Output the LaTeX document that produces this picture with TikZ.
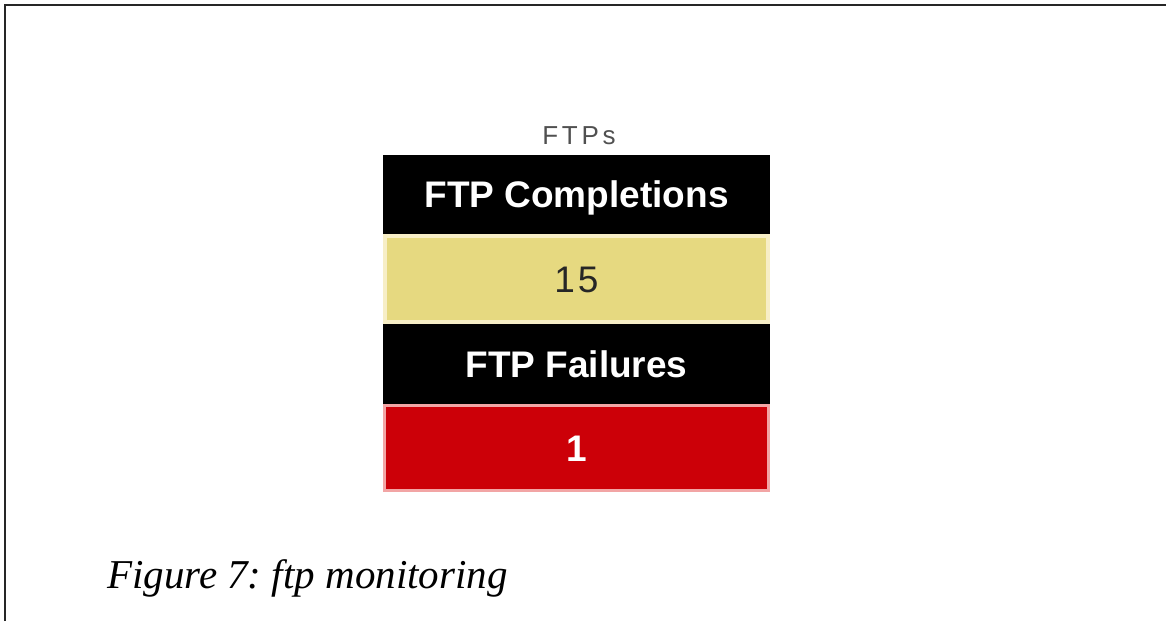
\documentclass[tikz,border=0pt]{standalone}
\usepackage{fontspec}
\setmainfont{Liberation Serif}
\setsansfont{Liberation Sans}
\usetikzlibrary{positioning}
\definecolor{panelyellow}{RGB}{230,217,128}
\definecolor{panelcream}{RGB}{247,238,198}
\definecolor{panelred}{RGB}{204,0,8}
\definecolor{panelpink}{RGB}{242,165,165}
\definecolor{titlegray}{RGB}{80,80,80}
\frenchspacing

\begin{document}
\begin{tikzpicture}[x=1pt, y=-1pt,
    node distance=0pt,
    band/.style={rectangle, inner sep=0pt, minimum width=387pt,
        text height=26pt, text depth=0pt},
    hdr/.style={band, outer sep=0pt, fill=black, text=white, minimum height=79pt,
        font=\sffamily\bfseries\fontsize{37}{40}\selectfont},
    okval/.style={band, fill=panelyellow, draw=panelcream, line width=4pt,
        minimum width=383pt, minimum height=86pt, text=black!85,
        font=\sffamily\fontsize{37}{40}\selectfont\addfontfeature{LetterSpace=8}},
    badval/.style={band, fill=panelred, draw=panelpink, line width=3pt,
        minimum width=384pt, minimum height=85pt, text=white,
        font=\sffamily\bfseries\fontsize{37}{40}\selectfont},
]
\useasboundingbox (0,0) rectangle (1166,621);
% page frame, left and top only
\draw[line width=2.2pt, black!85] (5,621) -- (5,5) -- (1166,5);

% status panel
\node[anchor=base, inner sep=0pt, text=titlegray,
    font=\sffamily\fontsize{26}{30}\selectfont\addfontfeature{LetterSpace=14}]
    (title) at (579,144) {FTPs};
\node[hdr] (comp) at (576.5,194.5) {FTP Completions};
\node[okval, below=of comp] (compval) {15};
\node[hdr, below=of compval, minimum height=80pt] (fail) {FTP Failures};
\node[badval, below=of fail] (failval) {1};

% caption
\node[anchor=base west, inner sep=0pt, font=\itshape\fontsize{41}{48}\selectfont]
    (cap) at (107,588) {Figure 7: ftp monitoring};
\end{tikzpicture}
\end{document}
